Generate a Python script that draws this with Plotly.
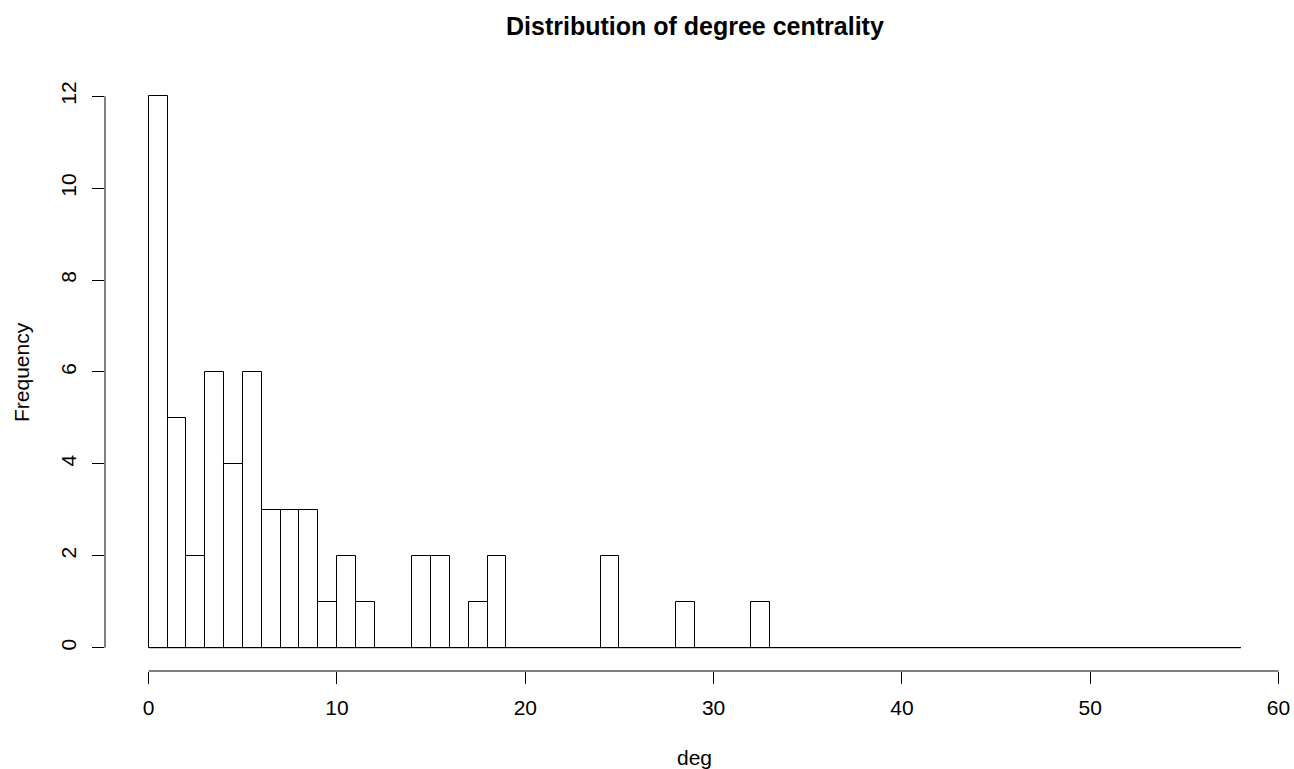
import plotly.graph_objects as go

# Histogram data (bin width 1, breaks 0..58)
breaks = list(range(0, 59))
counts = [12, 5, 2, 6, 4, 6, 3, 3, 3, 1, 2, 1, 0, 0, 2, 2, 0, 1, 2, 0,
          0, 0, 0, 0, 2, 0, 0, 0, 1, 0, 0, 0, 1, 0, 0, 0, 0, 0, 0, 0,
          0, 0, 0, 0, 0, 0, 0, 0, 0, 0, 0, 0, 0, 0, 0, 0, 0, 0]
x_ticks = [0, 10, 20, 30, 40, 50, 60]
y_ticks = [0, 2, 4, 6, 8, 10, 12]
title_text = "Distribution of degree centrality"
x_label = "deg"
y_label = "Frequency"

mids = [(breaks[i] + breaks[i + 1]) / 2 for i in range(len(counts))]
widths = [breaks[i + 1] - breaks[i] for i in range(len(counts))]

FONT = "Liberation Sans, Arial, sans-serif"
FS = 21

fig = go.Figure()
fig.add_trace(go.Bar(
    x=mids, y=counts, width=widths,
    marker=dict(color="white", line=dict(color="black", width=1)),
    showlegend=False, hoverinfo="x+y",
))
# baseline of empty bins
fig.add_trace(go.Scatter(
    x=[breaks[0], breaks[-1]], y=[0, 0], mode="lines",
    line=dict(color="black", width=1), showlegend=False, hoverinfo="skip",
))

fig.update_layout(
    width=1294, height=769,
    margin=dict(l=105, r=4, t=70, b=98),
    paper_bgcolor="white", plot_bgcolor="white",
    font=dict(family=FONT, size=FS, color="black"),
    bargap=0,
    xaxis=dict(
        range=[-2.32, 60.61], tickvals=x_ticks, ticktext=[str(v) for v in x_ticks],
        showgrid=False, zeroline=False, showline=False,
        ticks="outside", ticklen=12, tickwidth=1, tickcolor="black",
        ticklabelstandoff=6,
        tickfont=dict(family=FONT, size=FS, color="black"),
    ),
    yaxis=dict(
        range=[-0.507, 12.57], tickvals=y_ticks, ticktext=[str(v) for v in y_ticks],
        showgrid=False, zeroline=False, showline=False,
        ticks="outside", ticklen=12, tickwidth=1, tickcolor="black",
        tickangle=-90, ticklabelstandoff=8,
        tickfont=dict(family=FONT, size=FS, color="black"),
    ),
    shapes=[
        dict(type="line", xref="x", yref="paper", x0=x_ticks[0], x1=x_ticks[-1], y0=0, y1=0,
             line=dict(color="black", width=1)),
        dict(type="line", xref="paper", yref="y", x0=0, x1=0, y0=y_ticks[0], y1=y_ticks[-1],
             line=dict(color="black", width=1)),
    ],
    annotations=[
        dict(text="<b>" + title_text + "</b>", xref="x", yref="paper", x=29, y=1.074,
             showarrow=False, xanchor="center", yanchor="middle",
             font=dict(family=FONT, size=25, color="black")),
        dict(text=x_label, xref="x", yref="paper", x=29, y=-0.1431,
             showarrow=False, xanchor="center", yanchor="middle",
             font=dict(family=FONT, size=FS, color="black")),
        dict(text=y_label, xref="paper", yref="y", x=-0.0700, y=6, textangle=-90,
             showarrow=False, xanchor="center", yanchor="middle",
             font=dict(family=FONT, size=FS, color="black")),
    ],
)

fig.write_html("out.html",
               config={"displayModeBar": False},
               post_script="document.body.style.margin='0';document.body.style.overflow='hidden';")
